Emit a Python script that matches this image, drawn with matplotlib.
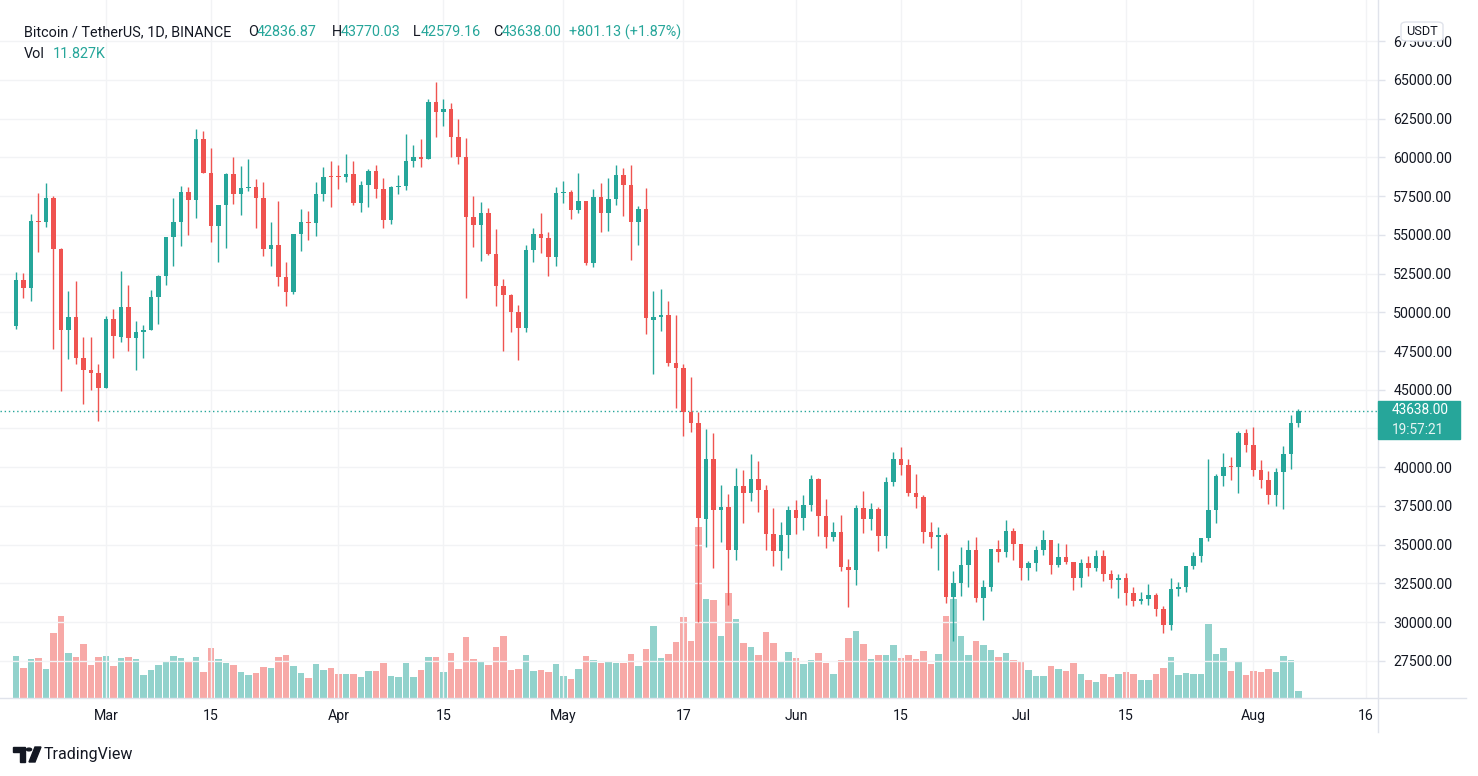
import numpy as np
import pandas as pd
import matplotlib
matplotlib.use("Agg")
import matplotlib.pyplot as plt
from matplotlib.patches import Rectangle, FancyBboxPatch, Polygon, Circle
from matplotlib.lines import Line2D

plt.rcParams['font.family'] = ['Roboto', 'DejaVu Sans']

# BTC/USDT daily candles, 17 Feb 2021 - 7 Aug 2021
dates = pd.date_range("2021-02-17", "2021-08-07", freq="D")

opens = [
    # Feb
    49133, 52117, 51552, 55906, 55841, 57412, 54087, 48891, 49676, 47073, 46277, 46103,
    # Mar
    45134, 49595, 48436, 50349, 48374, 48746, 48882, 50959, 52375, 54874, 55851, 57773, 57222, 61188, 58977, 55605,
    56900, 58912, 57641, 58030, 58100, 57351, 54083, 54342, 52303, 51293, 55025, 55818, 55791, 57635, 58746,
    # Apr
    58739, 58720, 58950, 57051, 58202, 59129, 57991, 55953, 58077, 58142, 59769, 60010, 59880, 63575, 62959,
    63159, 61334, 60006, 56150, 55633, 56425, 53787, 51690, 51125, 50047, 49004, 54021, 55033, 54824, 53555,
    # May
    57697, 57797, 56578, 57169, 53200, 57436, 56393, 57315, 58866, 58240, 55816, 56670, 49537, 49671, 49845, 46716,
    46415, 43538, 42849, 36671, 40526, 37253, 37447, 34655, 38796, 38324, 39241, 38529, 35661, 34606, 35641,
    # Jun
    37253, 36694, 37568, 39246, 36829, 35517, 35796, 33556, 33380, 37389, 36677, 37313, 35546, 39020, 40516,
    40143, 38349, 38099, 35820, 35483, 35601, 31614, 32510, 33676, 34663, 31576, 32283, 34702, 34494, 35911,
    # Jul
    35045, 33502, 33786, 34669, 35288, 33690, 34220, 33863, 32875, 33815, 33502, 34259, 33086, 32729, 32820, 31874,
    31383, 31520, 31779, 30839, 29790, 32144, 32287, 33634, 34261, 35425, 37208, 39456, 40019, 40018, 42206,
    # Aug
    41461, 39850, 39146, 38207, 39723, 40862, 42836.87,
]
highs = [
    52618, 52530, 56368, 57700, 58352, 57508, 54183, 51374, 52041, 48424, 48395, 46638,
    49790, 50200, 52640, 51773, 49448, 49200, 51450, 52402, 54895, 57387, 58150, 58081, 61844, 61720, 60633, 56938,
    58982, 60040, 59468, 59880, 58589, 58430, 55830, 57200, 53230, 55073, 56700, 56559, 58400, 59368, 59800,
    59490, 60200, 59791, 58492, 59272, 59495, 58655, 58153, 58894, 61500, 60800, 61199, 63800, 64854, 63800,
    63520, 62506, 61287, 57526, 57100, 56757, 55410, 52130, 51200, 50500, 54356, 55460, 56428, 55200, 58075,
    58458, 57911, 58981, 57200, 57963, 58360, 58650, 59500, 59300, 59500, 56862, 58000, 51367, 51483, 50700, 49800,
    46643, 45811, 43546, 42451, 42200, 38856, 38270, 39920, 39791, 40841, 40411, 38877, 37338, 36488, 37499,
    37895, 38225, 39476, 39289, 37925, 36480, 36900, 34068, 37534, 38491, 37680, 37448, 39380, 40978, 41330,
    40527, 39559, 38202, 36457, 36137, 35750, 33298, 34881, 35298, 35500, 32730, 34749, 35297, 36600, 36100,
    35057, 33977, 34945, 35967, 35293, 35118, 35059, 33900, 34100, 34262, 34666, 34679, 33340, 33114, 33185, 32249,
    31935, 32435, 31899, 31063, 32858, 32591, 33650, 34500, 35398, 40550, 39542, 40900, 40640, 42316, 42448,
    42599, 40480, 39780, 39969, 41350, 43392, 43770.03,
]
lows = [
    48947, 50901, 50710, 53863, 55477, 47622, 44892, 47003, 46674, 44106, 45000, 43000,
    45115, 47047, 48100, 47500, 46300, 47070, 48882, 49274, 51789, 53005, 54269, 54962, 56078, 59018, 54568, 53271,
    54123, 57023, 56270, 57820, 55450, 53650, 53000, 51700, 50427, 51214, 53967, 54691, 54900, 57166, 56769,
    57935, 58428, 56955, 56500, 56800, 57413, 55473, 55700, 57654, 57900, 59380, 59369, 59869, 61301, 62020,
    60000, 59580, 50931, 54221, 53329, 53695, 50400, 47500, 48734, 46930, 48753, 53222, 53813, 52330, 53013,
    57052, 56035, 56435, 53046, 52900, 55200, 55241, 56900, 56235, 53400, 54370, 48600, 46000, 48800, 46555, 43825,
    42001, 42250, 30000, 34850, 33488, 35200, 31111, 34031, 36419, 37800, 37134, 34684, 33632, 33379, 34153,
    35666, 35920, 37170, 35555, 34800, 35258, 33300, 31000, 32396, 35782, 35936, 34600, 34757, 38757, 39506,
    38116, 37365, 35129, 34803, 33336, 31251, 28805, 31683, 32286, 31275, 30151, 32000, 33862, 34225, 34017,
    32711, 32699, 33316, 34357, 33125, 33532, 33777, 32095, 32261, 33004, 33306, 32658, 32202, 31550, 31133, 31020,
    31164, 31108, 30407, 29278, 29482, 31708, 31925, 33401, 33851, 35205, 36383, 38772, 39200, 38313, 41000,
    39422, 38690, 37642, 37508, 37332, 39853, 42579.16,
]
closes = [
    52119, 51552, 55906, 55841, 57408, 54087, 48891, 49676, 47073, 46276, 46106, 45135,
    49587, 48440, 50349, 48374, 48751, 48882, 50971, 52375, 54884, 55851, 57773, 57221, 61188, 58968, 55605, 56900,
    58912, 57648, 58030, 58102, 57351, 54083, 54340, 52303, 51293, 55025, 55817, 55777, 57635, 58746, 58740,
    58720, 58950, 57051, 58202, 59129, 57991, 55953, 58077, 58142, 59769, 60010, 59880, 63575, 62959, 63159,
    61334, 60006, 56150, 55633, 56425, 53787, 51690, 51125, 50047, 49004, 54021, 55033, 54824, 53555, 57697,
    57797, 56578, 57170, 53200, 57436, 56393, 57314, 58862, 58240, 55816, 56670, 49631, 49671, 49841, 46708, 46426,
    43538, 42849, 36690, 40526, 37252, 37449, 34655, 38797, 38324, 39241, 38529, 35663, 34605, 35641, 37253,
    36693, 37568, 39246, 36829, 35513, 35796, 33552, 33380, 37388, 36675, 37313, 35546, 39020, 40516, 40144,
    38349, 38092, 35820, 35483, 35600, 31608, 32509, 33678, 34663, 31584, 32283, 34700, 34494, 35911, 35045,
    33504, 33801, 34668, 35287, 33691, 34220, 33863, 32877, 33815, 33502, 34259, 33086, 32730, 32820, 31880, 31383,
    31520, 31779, 30839, 29790, 32144, 32287, 33634, 34258, 35425, 37208, 39456, 40020, 40017, 42207, 41461,
    39846, 39147, 38207, 39723, 40862, 42836, 43638.00,
]
# volume in thousands of BTC
volumes = [
    68.5, 49.1, 63.7, 65.3, 47.5, 105.8, 133.3, 73.4, 66.9, 88.0, 53.9, 66.9,
    68.5, 52.3, 65.3, 66.9, 63.7, 37.7, 45.8, 53.9, 58.8, 68.5, 65.3, 58.8, 66.9, 42.6, 81.5, 63.7,
    57.2, 53.9, 42.6, 37.7, 41.0, 50.7, 49.1, 66.9, 70.1, 52.3, 41.0, 32.9, 55.6, 45.8, 49.1,
    39.4, 39.4, 39.4, 34.5, 44.2, 44.2, 57.2, 36.1, 34.5, 57.2, 34.5, 45.8, 66.9, 66.9, 42.6,
    73.4, 47.5, 99.3, 63.7, 58.8, 53.9, 83.1, 100.9, 45.8, 47.5, 70.1, 44.2, 45.8, 42.6, 55.6,
    36.1, 31.3, 47.5, 68.5, 62.0, 57.2, 60.4, 57.2, 57.2, 71.8, 52.3, 79.9, 117.1, 65.3, 71.8, 91.2,
    131.7, 92.8, 277.0, 160.9, 159.2, 100.9, 170.6, 128.5, 89.6, 83.1, 70.1, 107.4, 89.6, 58.8, 75.0,
    65.3, 55.6, 62.0, 73.4, 57.2, 39.4, 62.0, 97.7, 109.0, 88.0, 63.7, 70.1, 70.1, 86.3, 65.3,
    70.1, 63.7, 76.6, 55.6, 71.8, 133.3, 160.9, 100.9, 70.1, 92.8, 86.3, 78.2, 66.9, 73.4, 62.0,
    58.8, 45.8, 36.1, 36.1, 52.3, 47.5, 44.2, 57.2, 39.4, 29.6, 26.4, 39.4, 34.5, 39.4, 42.6, 39.4,
    29.6, 29.6, 39.4, 49.1, 66.9, 37.7, 41.0, 39.4, 39.4, 120.4, 71.8, 81.5, 44.2, 60.4, 37.7,
    44.2, 42.6, 47.5, 42.6, 68.5, 62.0, 11.827,
]

xtick_dates = ["2021-03-01", "2021-03-15", "2021-04-01", "2021-04-15", "2021-05-01", "2021-05-17",
               "2021-06-01", "2021-06-15", "2021-07-01", "2021-07-15", "2021-08-01", "2021-08-16"]
xtick_labels = ["Mar", "15", "Apr", "15", "May", "17", "Jun", "15", "Jul", "15", "Aug", "16"]
price_ticks = np.arange(27500, 67501, 2500)

UP, DOWN = "#26a69a", "#ef5350"
TXT = "#131722"
LINE = "#e0e3eb"

o = np.array(opens, float)
h = np.array(highs, float)
l = np.array(lows, float)
c = np.array(closes, float)
v = np.array(volumes, float)
x = np.arange(len(dates))
up = c >= o
cols = np.where(up, UP, DOWN)
vcols = np.where(up, "#92d2cc", "#f7a9a7")

W, H = 1478, 776
fig = plt.figure(figsize=(W / 100, H / 100), dpi=100)
fig.patch.set_facecolor("white")


def fx(px):
    return px / W


def fy(py):
    return 1 - py / H


PANE_R, PANE_B = 1378, 698
ax = fig.add_axes([0, fy(PANE_B), fx(PANE_R), PANE_B / H])
axv = ax.twinx()
axv.set_zorder(0)
ax.set_zorder(1)
ax.patch.set_visible(False)

# volume overlay
axv.bar(x, v, width=0.85, color=vcols, linewidth=0)
axv.set_ylim(0, 1131)
axv.axis("off")

# candles
ax.vlines(x, l, h, colors=cols, linewidth=1, zorder=3)
body_lo = np.minimum(o, c)
body_h = np.maximum(np.abs(c - o), 70)
ax.bar(x, body_h, bottom=body_lo, width=0.66, color=cols, linewidth=0, zorder=4)

ax.set_xlim(-2.13, 181.6)
ax.set_ylim(25100, 70165)

# last price line
ax.axhline(c[-1], color=UP, linestyle=(0, (1, 2)), linewidth=1, zorder=2)

# grid / ticks (the label under the last-price box is hidden, as in the original)
xt = [(pd.Timestamp(d) - dates[0]).days for d in xtick_dates]
ax.set_xticks(xt)
ax.set_xticklabels(xtick_labels)
ax.set_yticks(price_ticks)
ax.set_yticklabels(["" if abs(p - c[-1]) < 1250 else f"{p:.2f}" for p in price_ticks])
ax.yaxis.tick_right()
ax.grid(True, color="#f2f3f5", linewidth=1, zorder=0)
ax.tick_params(axis="y", length=5, width=1, color=LINE, pad=6, labelsize=10.2, labelcolor=TXT)
ax.tick_params(axis="x", length=0, pad=8, labelsize=10.2, labelcolor=TXT)
for s in ax.spines.values():
    s.set_visible(False)

# frame lines
fig.add_artist(Line2D([0, fx(1466)], [fy(698), fy(698)], color=LINE, lw=1, transform=fig.transFigure))
fig.add_artist(Line2D([fx(1378), fx(1378)], [fy(0), fy(732)], color=LINE, lw=1, transform=fig.transFigure))

# last price label
fig.add_artist(Rectangle((fx(1378), fy(439)), 82 / W, 38 / H, color=UP, transform=fig.transFigure, zorder=5))
fig.text(fx(1392), fy(410.5), f"{c[-1]:.2f}", color="white", fontsize=9.8, va="center", ha="left", zorder=6)
fig.text(fx(1392), fy(429.5), "19:57:21", color="#e6f4f3", fontsize=9.8, va="center", ha="left", zorder=6)

# currency badge
fig.add_artist(FancyBboxPatch((fx(1401), fy(41)), 42 / W, 19 / H, boxstyle="round,pad=0,rounding_size=0.004",
                              facecolor="white", edgecolor=LINE, lw=1, transform=fig.transFigure, zorder=5))
fig.text(fx(1422), fy(31.5), "USDT", color=TXT, fontsize=9.2, ha="center", va="center", zorder=6)

# header legend
hy = fy(32.5)
HFS = 10.4
fig.text(fx(24), hy, "Bitcoin / TetherUS, 1D, BINANCE", color=TXT, fontsize=HFS, va="center")
parts = [("O", 248, TXT), (f"{opens[-1]:.2f}", 257, UP), ("H", 332, TXT), (f"{highs[-1]:.2f}", 341, UP),
         ("L", 413, TXT), (f"{lows[-1]:.2f}", 421, UP), ("C", 493, TXT), (f"{closes[-1]:.2f}", 502, UP)]
for s, px, col in parts:
    fig.text(fx(px), hy, s, color=col, fontsize=HFS, va="center")
chg = closes[-1] - opens[-1]
fig.text(fx(569), hy, f"+{chg:.2f} (+{chg / opens[-1] * 100:.2f}%)", color=UP, fontsize=HFS, va="center")
fig.text(fx(24), fy(53.5), "Vol", color=TXT, fontsize=HFS, va="center")
fig.text(fx(53), fy(53.5), f"{volumes[-1]:.3f}K", color=UP, fontsize=HFS, va="center")

# TradingView logo
def poly(pts, **kw):
    fig.add_artist(Polygon([(fx(a), fy(b)) for a, b in pts], closed=True, transform=fig.transFigure, **kw))


poly([(13, 747), (25, 747), (25, 762), (20, 762), (20, 752), (13, 752)], color=TXT)
fig.add_artist(Circle((fx(29), fy(749.5)), 2.6 / W, color=TXT, transform=fig.transFigure))
poly([(29, 762), (35, 747), (41, 747), (35, 762)], color=TXT)
fig.text(fx(44), fy(754), "TradingView", color=TXT, fontsize=11.5, va="center", ha="left")

fig.savefig("out.png", dpi=100, facecolor="white")
